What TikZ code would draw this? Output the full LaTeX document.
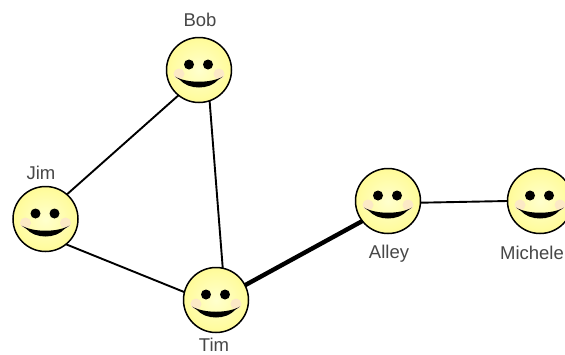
\documentclass[tikz,border=0pt]{standalone}
\usepackage{fontspec}
\setmainfont{Liberation Sans}
\definecolor{faceinner}{HTML}{FFFFCE}
\definecolor{faceouter}{HTML}{FFFB98}
\definecolor{cheek}{HTML}{FCE9C6}
\tikzset{
  facenode/.style={circle,draw=black,line width=1.5pt,minimum size=65pt,inner sep=0pt,outer sep=0pt,inner color=faceinner,outer color=faceouter},
  namelabel/.style={font=\fontsize{18.5pt}{20pt}\selectfont,text=black!72,inner sep=0pt},
  edgeline/.style={line width=1.9pt,black},
  heavyline/.style={line width=4.4pt,black}
}
\newcommand{\smileface}[3]{%
  \node[facenode] (#1) at (#2,#3) {};
  \begin{scope}[shift={(#1.center)}]
    \fill[cheek] (-20,4) circle (5.5);
    \fill[cheek] (20,4) circle (5.5);
    \fill[black] (-10,-5.5) circle (5);
    \fill[black] (9,-5.5) circle (5);
    \fill[black] (-24,6.5) .. controls (-12,13.5) and (12,13.5) .. (24,6.5)
      -- (19,10) .. controls (10,20) and (-10,20) .. (-19,10) -- cycle;
  \end{scope}}
\begin{document}
\begin{tikzpicture}[x=1pt,y=-1pt]
\useasboundingbox (0,0) rectangle (565,354);
\clip (0,0) rectangle (565,354);
\fill[white] (0,0) rectangle (565,354);
\smileface{bob}{199}{70}
\smileface{jim}{45.5}{219}
\smileface{tim}{216}{300}
\smileface{alley}{388}{201}
\smileface{michele}{540}{201}
\draw[edgeline] (bob.231) -- (jim.49);
\draw[edgeline] (bob.-71) -- (tim.78);
\draw[edgeline] (jim.-51) -- (tim.166);
\draw[heavyline] (tim.27) -- (alley.218);
\draw[edgeline] (alley.-3) -- (michele.180);
\node[namelabel] (lbob) at (200,20) {Bob};
\node[namelabel] (ljim) at (41,173) {Jim};
\node[namelabel] (ltim) at (214,345) {Tim};
\node[namelabel] (lalley) at (389,254) {Alley};
\node[namelabel] (lmichele) at (532,253) {Michele};
\end{tikzpicture}
\end{document}
